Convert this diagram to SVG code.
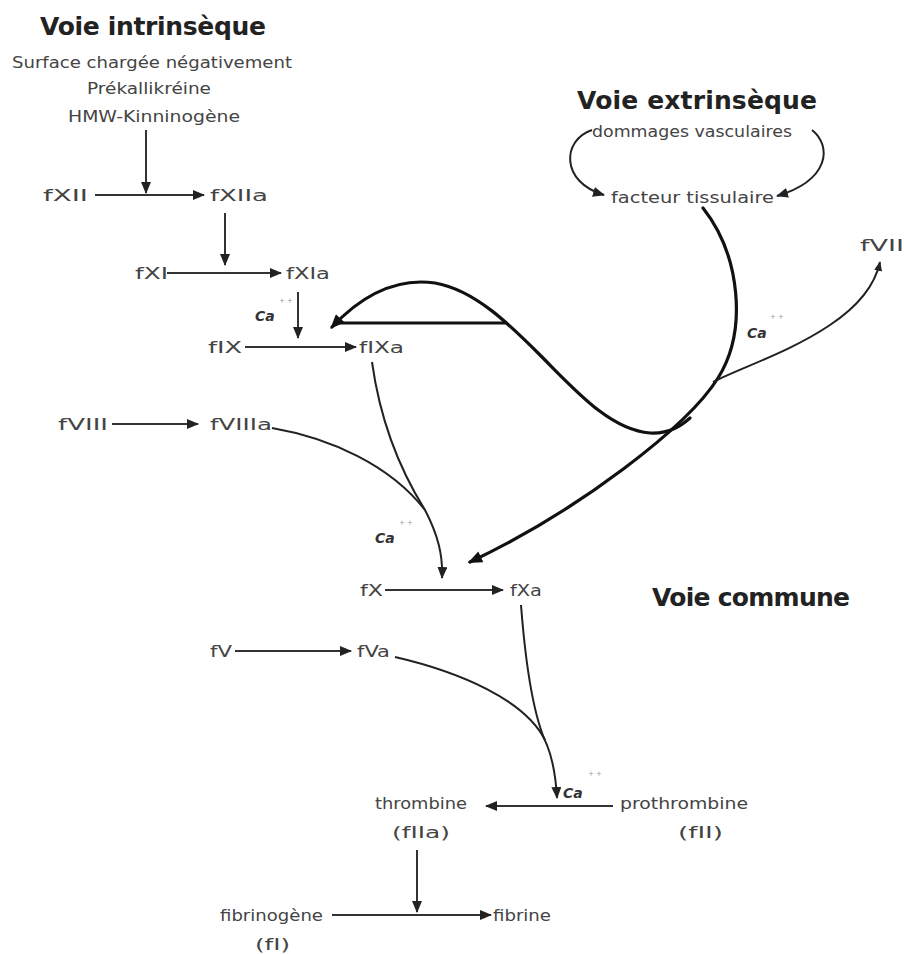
<svg xmlns="http://www.w3.org/2000/svg" width="904" height="954" viewBox="0 0 904 954">
<defs>
<style>
.t{font-family:"DejaVu Sans","Liberation Sans",sans-serif;font-size:15px;fill:#444}
.h{font-family:"DejaVu Sans","Liberation Sans",sans-serif;font-size:25px;font-weight:bold;fill:#222}
.ca{font-family:"DejaVu Sans","Liberation Sans",sans-serif;font-size:14px;font-weight:bold;font-style:italic;fill:#333}
.sup{font-family:"DejaVu Sans","Liberation Sans",sans-serif;font-size:7px;fill:#999}
.s{fill:none;stroke:#333;stroke-width:2}
.c{fill:none;stroke:#111;stroke-width:3.2;stroke-linecap:round}
.m{fill:none;stroke:#222;stroke-width:2}
</style>
<marker id="ah" viewBox="0 0 12 10" refX="11" refY="5" markerWidth="12" markerHeight="10" markerUnits="userSpaceOnUse" orient="auto"><path d="M0,0 L12,5 L0,10 z" fill="#222"/></marker>
<marker id="ahs" viewBox="0 0 12 10" refX="11" refY="5" markerWidth="10" markerHeight="8" markerUnits="userSpaceOnUse" orient="auto-start-reverse"><path d="M0,0 L12,5 L0,10 z" fill="#222"/></marker>
<marker id="ahb" viewBox="0 0 12 10" refX="10" refY="5" markerWidth="15" markerHeight="12" markerUnits="userSpaceOnUse" orient="auto-start-reverse"><path d="M0,0 L12,5 L0,10 z" fill="#111"/></marker>
</defs>
<rect width="904" height="954" fill="#fff"/>

<g id="titles">
<text class="h" x="40" y="35" textLength="226">Voie intrinsèque</text>
<text class="h" x="577" y="109" textLength="240">Voie extrinsèque</text>
<text class="h" x="652" y="606" textLength="198">Voie commune</text>
</g>

<g id="activators">
<text class="t" x="12" y="68" textLength="280" lengthAdjust="spacingAndGlyphs">Surface chargée négativement</text>
<text class="t" x="87" y="94" textLength="124" lengthAdjust="spacingAndGlyphs">Prékallikréine</text>
<text class="t" x="68" y="122" textLength="172" lengthAdjust="spacingAndGlyphs">HMW-Kinninogène</text>
</g>

<g id="fXII"><text class="t" x="43" y="201" textLength="45" lengthAdjust="spacingAndGlyphs">fXII</text></g>
<g id="fXIIa"><text class="t" x="210" y="201" textLength="58" lengthAdjust="spacingAndGlyphs">fXIIa</text></g>
<g id="fXI"><text class="t" x="135" y="279" textLength="33" lengthAdjust="spacingAndGlyphs">fXI</text></g>
<g id="fXIa"><text class="t" x="286" y="279" textLength="44" lengthAdjust="spacingAndGlyphs">fXIa</text></g>
<g id="fIX"><text class="t" x="208" y="353" textLength="34" lengthAdjust="spacingAndGlyphs">fIX</text></g>
<g id="fIXa"><text class="t" x="359" y="353" textLength="45" lengthAdjust="spacingAndGlyphs">fIXa</text></g>
<g id="fVIII"><text class="t" x="58" y="430" textLength="50" lengthAdjust="spacingAndGlyphs">fVIII</text></g>
<g id="fVIIIa"><text class="t" x="210" y="430" textLength="62" lengthAdjust="spacingAndGlyphs">fVIIIa</text></g>
<g id="fX"><text class="t" x="360" y="596" textLength="23" lengthAdjust="spacingAndGlyphs">fX</text></g>
<g id="fXa"><text class="t" x="510" y="596" textLength="32" lengthAdjust="spacingAndGlyphs">fXa</text></g>
<g id="fV"><text class="t" x="210" y="657" textLength="22" lengthAdjust="spacingAndGlyphs">fV</text></g>
<g id="fVa"><text class="t" x="357" y="657" textLength="33" lengthAdjust="spacingAndGlyphs">fVa</text></g>
<g id="thrombine"><text class="t" x="375" y="809" textLength="92" lengthAdjust="spacingAndGlyphs">thrombine</text><text class="t" x="392" y="838" textLength="58" lengthAdjust="spacingAndGlyphs">(fIIa)</text></g>
<g id="prothrombine"><text class="t" x="620" y="809" textLength="128" lengthAdjust="spacingAndGlyphs">prothrombine</text><text class="t" x="678" y="838" textLength="45" lengthAdjust="spacingAndGlyphs">(fII)</text></g>
<g id="fibrinogene"><text class="t" x="220" y="921" textLength="103" lengthAdjust="spacingAndGlyphs">fibrinogène</text><text class="t" x="255" y="950" textLength="35" lengthAdjust="spacingAndGlyphs">(fI)</text></g>
<g id="fibrine"><text class="t" x="493" y="921" textLength="58" lengthAdjust="spacingAndGlyphs">fibrine</text></g>
<g id="dommages"><text class="t" x="592" y="137" textLength="200" lengthAdjust="spacingAndGlyphs">dommages vasculaires</text></g>
<g id="facteur-tissulaire"><text class="t" x="611" y="203" textLength="163" lengthAdjust="spacingAndGlyphs">facteur tissulaire</text></g>
<g id="fVII"><text class="t" x="860" y="251" textLength="44" lengthAdjust="spacingAndGlyphs">fVII</text></g>

<g id="calcium">
<text class="ca" x="255" y="321">Ca</text><text class="sup" x="279" y="303">+ +</text>
<text class="ca" x="375" y="543">Ca</text><text class="sup" x="399" y="525">+ +</text>
<text class="ca" x="563" y="798">Ca</text><text class="sup" x="588" y="776">+ +</text>
<text class="ca" x="747" y="338">Ca</text><text class="sup" x="770" y="319">+ +</text>
</g>

<g id="connectors">
<path class="s" d="M146,130 L146,193" marker-end="url(#ah)"/>
<path class="s" d="M95,195 L204,195" marker-end="url(#ah)"/>
<path class="s" d="M225,213 L225,265" marker-end="url(#ah)"/>
<path class="s" d="M167,273 L281,273" marker-end="url(#ah)"/>
<path class="s" d="M298,292 L298,338" marker-end="url(#ah)"/>
<path class="s" d="M245,347 L356,347" marker-end="url(#ah)"/>
<path class="s" d="M112,424 L198,424" marker-end="url(#ah)"/>
<path class="s" d="M385,590 L503,590" marker-end="url(#ah)"/>
<path class="s" d="M235,651 L351,651" marker-end="url(#ah)"/>
<path class="s" d="M613,806 L486,806" marker-end="url(#ah)"/>
<path class="s" d="M417,850 L417,912" marker-end="url(#ah)"/>
<path class="s" d="M332,915 L491,915" marker-end="url(#ah)"/>

<path class="m" d="M592,130 C 562,140 560,182 604,195" marker-end="url(#ah)"/>
<path class="m" d="M812,130 C 832,146 830,180 777,196" marker-end="url(#ah)"/>

<path class="c" d="M703,208 C 740,255 748,330 718,378 S 580,510 470,562" marker-end="url(#ahb)"/>
<path class="c" d="M332,327 C 365,292 400,278 435,283 C 475,290 510,325 540,355 C 575,390 610,430 650,433 C 670,434 682,425 690,418" marker-start="url(#ahb)"/>
<path class="c" d="M505,323 L340,323"/>
<path class="m" d="M713,382 C 740,368 790,352 830,325 C 860,305 875,285 880,262" marker-end="url(#ahs)"/>

<path class="m" d="M372,362 C 380,420 400,470 425,510 C 438,535 443,555 442,578" marker-end="url(#ah)"/>
<path class="m" d="M272,428 C 330,438 390,465 425,510"/>
<path class="m" d="M521,605 C 526,670 535,720 547,745 C 553,760 556,780 557,798" marker-end="url(#ah)"/>
<path class="m" d="M395,657 C 460,672 525,700 545,740"/>
</g>
</svg>
